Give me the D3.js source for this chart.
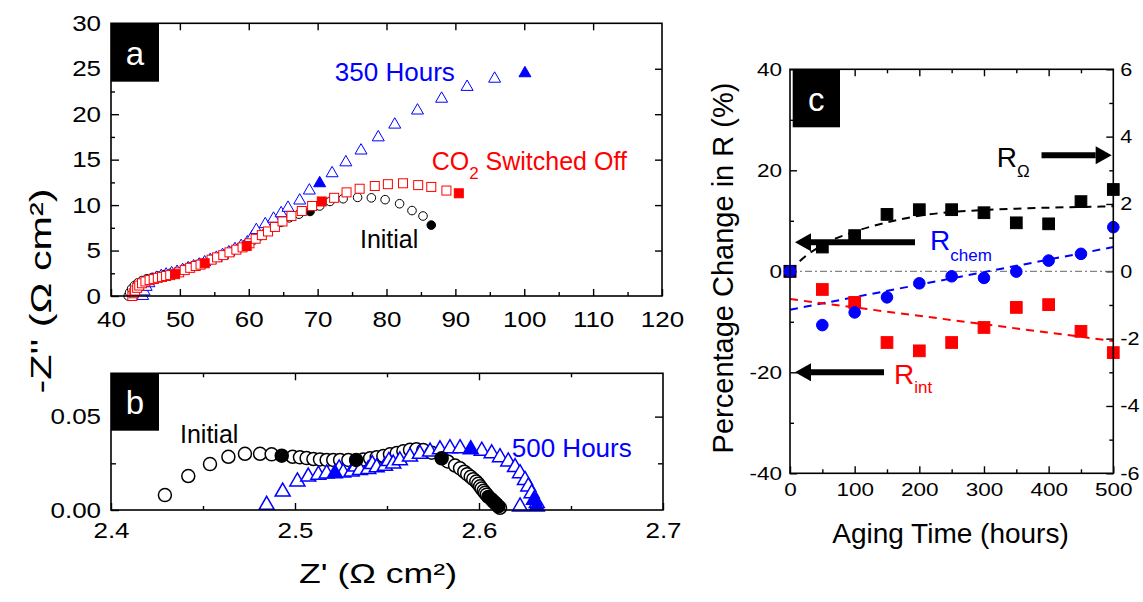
<!DOCTYPE html>
<html>
<head>
<meta charset="utf-8">
<script src="https://cdn.jsdelivr.net/npm/d3@7/dist/d3.min.js"></script>
<style>
  body { margin: 0; background: #fff; }
  svg { display: block; }
</style>
</head>
<body>
<script>
// ---------- data ----------
// panel a: Nyquist plots [Z', -Z''] (ohm cm2)
const initialA = [[42.5,0],[42.7,0.4],[43.0,0.8],[43.4,1.15],[43.9,1.45],[44.5,1.7],[45.2,1.9],[46.0,2.05],[46.8,2.2],[47.7,2.35],
  [48.6,2.5],[49.6,2.7],[50.6,2.95],[51.6,3.2],[52.6,3.45],[53.6,3.7],[54.6,4.0],[55.6,4.3],[56.6,4.6],[57.6,4.95],
  [58.6,5.3],[59.6,5.7],[60.6,6.1],[61.6,6.6],[62.6,7.1],[63.6,7.6],[64.7,8.1],[65.9,8.6],[67.3,9.0],[70.3,9.9],
  [71.8,10.4],[73.7,10.7],[75.8,10.85],[77.8,10.8],[79.8,10.6],[81.9,10.15],[83.7,9.4],[85.3,8.8]];
const initialAFilled = [[68.9,9.3],[86.5,7.8]];
const hours350 = [[44.6,0],[44.8,0.5],[45.1,1.0],[45.5,1.4],[46.0,1.75],[46.6,2.0],[47.3,2.2],[48.0,2.35],[48.8,2.5],[49.6,2.65],
  [50.4,2.85],[51.2,3.05],[52.0,3.25],[52.8,3.45],[53.6,3.7],[54.4,3.95],[55.3,4.2],[56.2,4.5],[57.1,4.8],[58.0,5.15],
  [58.9,5.5],[59.8,5.9],[60.5,6.5],[61.1,7.25],[62.4,7.9],[63.6,8.5],[64.7,9.1],[65.7,9.7],[67.4,10.5],[68.8,11.6],
  [72.1,13.5],[74.1,14.7],[76.3,16.0],[78.8,17.45],[81.2,18.85],[84.5,20.4],[88.0,21.7],[91.7,23.0],[95.7,23.9]];
const hours350Filled = [[70.3,12.4],[100.1,24.5]];
const co2Off = [[43.1,0],[43.3,0.3],[43.5,0.6],[43.8,0.9],[44.1,1.15],[44.5,1.4],[45.0,1.6],[45.6,1.75],[46.2,1.88],[46.8,2.0],
  [47.4,2.1],[48.0,2.2],[48.6,2.3],[49.9,2.6],[50.7,2.85],[51.5,3.1],[52.3,3.3],[53.0,3.45],[54.6,4.0],[55.4,4.25],
  [56.3,4.5],[57.2,4.8],[58.2,5.1],[59.1,5.35],[60.1,5.8],[61.0,6.3],[61.9,6.7],[62.8,7.1],[63.8,7.6],[64.9,8.2],
  [66.2,8.8],[67.7,9.35],[69.2,9.9],[72.4,10.8],[74.2,11.4],[76.1,11.8],[78.3,12.1],[80.2,12.3],[82.4,12.4],[84.6,12.2],
  [86.5,12.0],[88.7,11.6]];
const co2OffFilled = [[49.3,2.4],[53.6,3.6],[59.7,5.5],[70.6,10.4],[90.5,11.3]];

// panel b: zoomed spectra [Z', -Z''] (ohm cm2)
const initialB = [[2.4293,0.0080],[2.4420,0.0182],[2.4538,0.0246],[2.4638,0.0285],[2.4728,0.0301],[2.4810,0.0301],[2.4873,0.0298],
  [2.4987,0.0285],[2.5027,0.0282],[2.5063,0.0278],[2.5100,0.0273],[2.5136,0.0271],[2.5172,0.0268],[2.5208,0.0268],[2.5245,0.0268],
  [2.5290,0.0268],[2.5371,0.0271],[2.5408,0.0277],[2.5444,0.0282],[2.5480,0.0289],[2.5516,0.0298],[2.5553,0.0305],[2.5589,0.0315],
  [2.5625,0.0322],[2.5660,0.0325],[2.5697,0.0321],[2.5743,0.0307],[2.5830,0.0260],[2.5870,0.0238],[2.5897,0.0223],[2.5920,0.0205],
  [2.5936,0.0192],[2.5955,0.0178],[2.5969,0.0165],[2.5985,0.0152],[2.5996,0.0140],[2.6006,0.0127],[2.6014,0.0115],[2.6025,0.0103],
  [2.6033,0.0092],[2.6042,0.0082],[2.6069,0.0056],[2.6078,0.0046],[2.6095,0.0030],[2.6114,0.0012]];
const initialBFilled = [[2.4928,0.0291],[2.5332,0.0268],[2.5797,0.0277],[2.6051,0.0070],[2.6087,0.0038],[2.6105,0.0020]];
const hours500 = [[2.4846,0.0027],[2.4933,0.0098],[2.5013,0.0152],[2.5072,0.0178],[2.5127,0.0188],[2.5172,0.0195],[2.5240,0.0222],
  [2.5262,0.0200],[2.5308,0.0205],[2.5330,0.0232],[2.5353,0.0213],[2.5398,0.0218],[2.5420,0.0245],[2.5444,0.0228],[2.5489,0.0236],
  [2.5510,0.0262],[2.5534,0.0248],[2.5570,0.0265],[2.5625,0.0285],[2.5679,0.0300],[2.5734,0.0312],[2.5788,0.0324],[2.5842,0.0330],
  [2.5897,0.0330],[2.6015,0.0317],[2.6069,0.0303],[2.6114,0.0282],[2.6159,0.0259],[2.6196,0.0229],[2.6223,0.0196],[2.6250,0.0160],
  [2.6268,0.0125],[2.6286,0.0089],[2.6314,0.0036],[2.6223,0.0018]];
const hours500Filled = [[2.5217,0.0196],[2.5955,0.0325],[2.6299,0.0054],[2.6314,0.0018]];

// panel c: percentage change vs aging time
const agingHours = [0, 50, 100, 150, 200, 250, 300, 350, 400, 450, 500];
const rOhm = [0, 0.72, 1.06, 1.69, 1.83, 1.83, 1.74, 1.44, 1.41, 2.07, 2.43];            // right axis
const rChem = [0, -10.65, -8.14, -5.16, -2.38, -0.99, -1.31, -0.06, 2.12, 3.46, 8.74];    // left axis
const rInt = [0, -3.6, -6.16, -14.1, -15.75, -14.1, -11.12, -7.15, -6.6, -11.9, -16.1];  // left axis
const rOhmFit = [[0,0],[15,0.3],[50,0.78],[100,1.18],[150,1.45],[200,1.65],[250,1.76],[300,1.82],[350,1.86],[400,1.89],[450,1.91],[500,1.93]];
const rChemFit = [[0,-7.6],[500,4.8]];
const rIntFit = [[0,-5.5],[500,-13.8]];

const FONT = '"Liberation Sans", Arial, Helvetica, sans-serif';
const BLUE = '#0000ff', RED = '#ff0000';
const plain = d => String(d);             // hyphen minus, like the original
const fixed = n => d => d.toFixed(n);

const svg = d3.select('body').append('svg')
  .attr('width', 1143).attr('height', 602)
  .style('font-family', FONT);

// ---------- helpers ----------
function frame(x, y) {
  svg.append('rect')
    .attr('x', x.range()[0]).attr('y', y.range()[1])
    .attr('width', x.range()[1] - x.range()[0])
    .attr('height', y.range()[0] - y.range()[1])
    .attr('fill', 'none').attr('stroke', '#000').attr('stroke-width', 1.6);
}

// inward ticks, optional stretched labels
function ticks(orient, scale, pos, values, len, fmt, o) {
  const gen = { bottom: d3.axisBottom, top: d3.axisTop, left: d3.axisLeft, right: d3.axisRight }[orient](scale)
    .tickValues(values).tickSize(-len).tickPadding(o ? o.pad : 3)
    .tickFormat(fmt || (() => ''));
  const horiz = orient === 'bottom' || orient === 'top';
  const a = svg.append('g')
    .attr('transform', horiz ? `translate(0,${pos})` : `translate(${pos},0)`)
    .call(gen);
  a.select('.domain').remove();
  a.selectAll('line').attr('stroke', '#000').attr('stroke-width', 1.4);
  if (fmt) {
    const t = a.selectAll('text')
      .attr('font-size', o.size).attr('font-family', FONT).attr('fill', '#000')
      .attr('transform', `scale(${o.sx},1)`);
    if (!horiz) t.attr('x', (orient === 'left' ? -1 : 1) * o.pad / o.sx);
  } else {
    a.selectAll('text').remove();
  }
}

function label(x, y, str, size, color, anchor) {
  return svg.append('text').attr('x', x).attr('y', y)
    .attr('font-size', size).attr('fill', color || '#000')
    .attr('text-anchor', anchor || 'start').text(str);
}

function letterBox(x0, y0, w, h, ch, baseline) {
  svg.append('rect').attr('x', x0).attr('y', y0).attr('width', w).attr('height', h).attr('fill', '#000');
  label(x0 + w / 2, baseline, ch, 33, '#fff', 'middle');
}

function circles(data, x, y, r, color, filled, sw) {
  svg.append('g').selectAll('circle').data(data).join('circle')
    .attr('cx', d => x(d[0])).attr('cy', d => y(d[1])).attr('r', r)
    .attr('fill', filled ? color : '#fff').attr('stroke', color).attr('stroke-width', sw || 1);
}
function squares(data, x, y, s, color, filled, sw) {
  svg.append('g').selectAll('rect').data(data).join('rect')
    .attr('x', d => x(d[0]) - s / 2).attr('y', d => y(d[1]) - s / 2)
    .attr('width', s).attr('height', s)
    .attr('fill', filled ? color : '#fff').attr('stroke', color).attr('stroke-width', sw || 1);
}
function triangles(data, x, y, side, color, filled, sw) {
  const sym = d3.symbol(d3.symbolTriangle, side * side * Math.sqrt(3) / 4);
  svg.append('g').selectAll('path').data(data).join('path')
    .attr('d', sym).attr('transform', d => `translate(${x(d[0])},${y(d[1])})`)
    .attr('fill', filled ? color : '#fff').attr('stroke', color).attr('stroke-width', sw || 1);
}

function arrow(x1, x2, y) {
  const dir = Math.sign(x2 - x1), head = 16, half = 9;
  svg.append('line').attr('x1', x1).attr('x2', x2 - dir * head).attr('y1', y).attr('y2', y)
    .attr('stroke', '#000').attr('stroke-width', 6);
  svg.append('path')
    .attr('d', `M${x2},${y}L${x2 - dir * head},${y - half}L${x2 - dir * head},${y + half}Z`)
    .attr('fill', '#000');
}

// ---------- panel a ----------
const xA = d3.scaleLinear().domain([40, 120]).range([111, 662]);
const yA = d3.scaleLinear().domain([0, 30]).range([296, 23.3]);

ticks('bottom', xA, 296, d3.range(45, 120, 10), 4);
ticks('bottom', xA, 296, d3.range(40, 121, 10), 7, plain, { size: 22, sx: 1.18, pad: 15 });
ticks('top', xA, 23.3, d3.range(50, 120, 10), 7);
ticks('left', yA, 111, d3.range(2.5, 30, 5), 4);
ticks('left', yA, 111, d3.range(0, 31, 5), 8, plain, { size: 22, sx: 1.18, pad: 10 });
ticks('right', yA, 662, d3.range(5, 30, 5), 7);

circles(initialA, xA, yA, 4.3, '#000', false);
circles(initialAFilled, xA, yA, 4.3, '#000', true);
triangles(hours350, xA, yA, 12, BLUE, false);
squares(co2Off, xA, yA, 9, RED, false);
triangles(hours350Filled, xA, yA, 12, BLUE, true);
squares(co2OffFilled, xA, yA, 9, RED, true);
frame(xA, yA);
letterBox(111, 23.3, 48, 58.4, 'a', 65);

label(xA(72.5), yA(23.65), '350 Hours', 26, BLUE);
const co2 = label(xA(86.56), yA(13.86), 'CO', 25, RED);
co2.append('tspan').attr('font-size', 17).attr('dy', 9).text('2');
co2.append('tspan').attr('dy', -9).text(' Switched Off');
label(xA(76.15), yA(5.28), 'Initial', 25);

// ---------- panel b ----------
const xB = d3.scaleLinear().domain([2.4, 2.7]).range([111, 663]);
const yB = d3.scaleLinear().domain([0, 0.0732]).range([510, 373.3]);

ticks('bottom', xB, 510, [2.45, 2.55, 2.65], 4);
ticks('bottom', xB, 510, [2.4, 2.5, 2.6, 2.7], 7, fixed(1), { size: 22, sx: 1.18, pad: 12 });
ticks('top', xB, 373.3, [2.45, 2.55, 2.65], 4);
ticks('top', xB, 373.3, [2.5, 2.6], 7);
ticks('left', yB, 111, [0.025], 5);
ticks('left', yB, 111, [0, 0.05], 8, fixed(2), { size: 22, sx: 1.18, pad: 10 });
ticks('right', yB, 663, [0.025], 5);
ticks('right', yB, 663, [0.05], 8);

circles(initialB, xB, yB, 6.5, '#000', false, 1.5);
triangles(hours500, xB, yB, 15, BLUE, false, 1.5);
circles(initialBFilled, xB, yB, 6.5, '#000', true, 1.5);
triangles(hours500Filled, xB, yB, 15, BLUE, true, 1.5);
frame(xB, yB);
letterBox(111, 373.3, 48, 57.4, 'b', 414);

label(xB(2.4375), yB(0.0359), 'Initial', 25);
label(xB(2.6178), yB(0.02854), '500 Hours', 26, BLUE);

// shared axis titles for a and b
label(378, 583, "Z' (Ω cm²)", 28, '#000', 'middle').attr('textLength', 158).attr('lengthAdjust', 'spacingAndGlyphs');
label(0, 0, "-Z'' (Ω cm²)", 30, '#000', 'middle')
  .attr('textLength', 205).attr('lengthAdjust', 'spacingAndGlyphs')
  .attr('transform', 'translate(51,291) rotate(-90)');

// ---------- panel c ----------
const xC = d3.scaleLinear().domain([0, 500]).range([790, 1113.3]);
const yC = d3.scaleLinear().domain([-40, 40]).range([473.3, 69.3]);
const yC2 = d3.scaleLinear().domain([-6, 6]).range([473.3, 69.3]);

ticks('bottom', xC, 473.3, d3.range(50, 500, 100), 4);
ticks('bottom', xC, 473.3, d3.range(0, 501, 100), 7, plain, { size: 18, sx: 1.25, pad: 10 });
ticks('top', xC, 69.3, d3.range(50, 500, 100), 4);
ticks('top', xC, 69.3, d3.range(100, 500, 100), 7);
ticks('left', yC, 790, d3.range(-30, 40, 20), 4);
ticks('left', yC, 790, d3.range(-40, 41, 20), 7, plain, { size: 18, sx: 1.25, pad: 8 });
ticks('right', yC2, 1113.3, d3.range(-5, 6, 2), 4);
ticks('right', yC2, 1113.3, d3.range(-6, 7, 2), 7, plain, { size: 18, sx: 1.2, pad: 7 });

// zero reference
svg.append('line').attr('x1', xC(0)).attr('x2', xC(500)).attr('y1', yC(0)).attr('y2', yC(0))
  .attr('stroke', '#666').attr('stroke-width', 1).attr('stroke-dasharray', '7,3,2,3');

const fitLine = (data, y, color) => svg.append('path').datum(data)
  .attr('d', d3.line().x(d => xC(d[0])).y(d => y(d[1])).curve(d3.curveMonotoneX))
  .attr('fill', 'none').attr('stroke', color).attr('stroke-width', 2).attr('stroke-dasharray', '8,6');
fitLine(rOhmFit, yC2, '#000');
fitLine(rChemFit, yC, BLUE);
fitLine(rIntFit, yC, RED);

const zip = vals => agingHours.map((t, i) => [t, vals[i]]);
squares(zip(rInt), xC, yC, 11.7, RED, true);
squares(zip(rOhm), xC, yC2, 11.7, '#000', true);
circles(zip(rChem), xC, yC, 5.8, BLUE, true);
frame(xC, yC);
letterBox(792.7, 69.3, 47.3, 58, 'c', 111);

// annotations
const rO = label(xC(319.7), yC(20.66), 'R', 28);
rO.append('tspan').attr('font-size', 17).attr('dy', 10).text('Ω');
arrow(xC(389), xC(497.5), yC2(3.45));
const rC = label(xC(216.5), yC(4.31), 'R', 28, BLUE);
rC.append('tspan').attr('font-size', 17).attr('dy', 11).text('chem');
arrow(xC(193.3), xC(7.7), yC(5.76));
const rI = label(xC(160.8), yC(-22.3), 'R', 28, RED);
rI.append('tspan').attr('font-size', 17).attr('dy', 9).text('int');
arrow(xC(145.4), xC(7.7), yC(-20));

label(950.5, 543, 'Aging Time (hours)', 28, '#000', 'middle');
label(0, 0, 'Percentage Change in R (%)', 29, '#000', 'middle')
  .attr('transform', 'translate(733,268) rotate(-90)');
</script>
</body>
</html>
